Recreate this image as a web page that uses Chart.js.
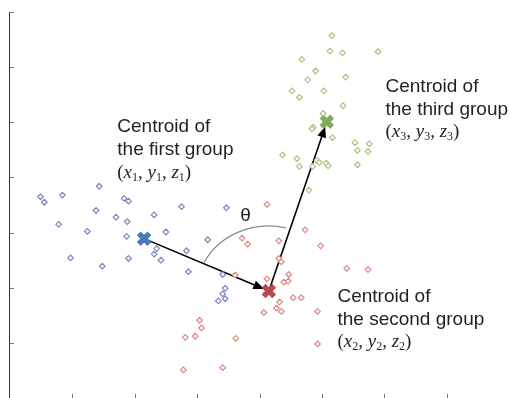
<!DOCTYPE html>
<html>
<head>
<meta charset="utf-8">
<script src="https://cdn.jsdelivr.net/npm/chart.js@4"></script>
<style>
  body { margin: 0; background: #fff; }
  #wrap { width: 509px; height: 398px; }
</style>
</head>
<body>
<div id="wrap"><canvas id="chart" width="509" height="398"></canvas></div>
<script>
const group1X = [0.49, 0.55, 0.84, 1.43, 1.83, 1.90, 0.78, 1.38, 1.70, 1.88, 2.31, 2.75, 3.47, 1.24, 1.87, 2.50, 3.17, 2.35, 2.31, 2.42, 2.83, 0.97, 1.90, 1.48, 2.86, 3.41, 3.45, 3.41, 3.45, 3.34];
const group1Y = [3.65, 3.55, 3.68, 3.84, 3.62, 3.57, 3.15, 3.40, 3.28, 3.20, 3.32, 3.47, 3.45, 3.02, 2.93, 3.01, 2.87, 2.71, 2.61, 2.50, 2.67, 2.54, 2.53, 2.39, 2.29, 2.24, 1.99, 1.89, 1.80, 1.76];

const group2X = [4.12, 4.73, 3.72, 3.81, 4.31, 4.98, 4.31, 4.35, 3.61, 4.12, 4.47, 4.39, 4.46, 5.40, 5.74, 4.54, 4.67, 4.32, 4.27, 4.35, 4.07, 4.93, 3.04, 3.07, 2.81, 2.97, 3.62, 4.93, 2.78, 3.41];
const group2Y = [3.51, 3.05, 2.90, 2.79, 2.85, 2.76, 2.53, 2.47, 2.23, 2.16, 2.24, 2.10, 2.12, 2.35, 2.33, 1.82, 1.82, 1.74, 1.63, 1.57, 1.55, 1.57, 1.41, 1.27, 1.10, 1.12, 1.08, 0.98, 0.51, 0.55];

const group3X = [5.16, 5.13, 5.33, 5.90, 4.68, 4.90, 4.77, 5.38, 4.52, 4.64, 5.03, 5.34, 5.02, 4.86, 4.84, 5.17, 5.53, 5.76, 5.57, 5.74, 4.37, 4.60, 4.64, 4.85, 4.92, 4.96, 5.07, 5.10, 5.57, 4.79];
const group3Y = [6.57, 6.29, 6.26, 6.28, 6.14, 5.93, 5.77, 5.82, 5.57, 5.45, 5.57, 5.30, 5.16, 4.91, 4.88, 4.72, 4.63, 4.61, 4.49, 4.47, 4.41, 4.34, 4.20, 4.20, 4.31, 4.27, 4.26, 4.21, 4.23, 3.77];

const centroidX = [2.15, 4.15, 5.08];
const centroidY = [2.89, 1.94, 5.01];
const groupNames = ['first', 'second', 'third'];

const xTicks = [1, 2, 3, 4, 5, 6, 7];
const yTicks = [1, 2, 3, 4, 5, 6, 7];

const pointColors = ['#7e85c1', '#dc8783', '#a8c582'];
const centroidColors = ['#4a7ab7', '#b9484d', '#82aa5b'];

function toPoints(xs, ys) {
  return xs.map((x, i) => ({ x: x, y: ys[i] }));
}

// label positions in data units, next to each centroid
const labelX = [1.72, 5.25, 6.02];
const labelY = [4.82, 1.74, 5.55];

function drawTuple(ctx, x, y, n) {
  const parts = [
    ['(', 'normal'], ['x', 'italic'], [n, 'sub'], [', ', 'normal'],
    ['y', 'italic'], [n, 'sub'], [', ', 'normal'],
    ['z', 'italic'], [n, 'sub'], [')', 'normal']
  ];
  let cx = x;
  parts.forEach(p => {
    let dy = 0;
    if (p[1] === 'italic') ctx.font = 'italic 19px "Liberation Serif", "Times New Roman", serif';
    else if (p[1] === 'sub') { ctx.font = '12px "Liberation Serif", "Times New Roman", serif'; dy = 3; }
    else ctx.font = '19px "Liberation Serif", "Times New Roman", serif';
    ctx.fillText(p[0], cx, y + dy);
    cx += ctx.measureText(p[0]).width;
  });
}

function arrow(ctx, x1, y1, x2, y2) {
  const ang = Math.atan2(y2 - y1, x2 - x1);
  const ex = x2 - Math.cos(ang) * 5;
  const ey = y2 - Math.sin(ang) * 5;
  ctx.beginPath();
  ctx.moveTo(x1, y1);
  ctx.lineTo(ex - Math.cos(ang) * 6, ey - Math.sin(ang) * 6);
  ctx.stroke();
  ctx.beginPath();
  ctx.moveTo(ex, ey);
  ctx.lineTo(ex - 11 * Math.cos(ang) + 4.5 * Math.sin(ang), ey - 11 * Math.sin(ang) - 4.5 * Math.cos(ang));
  ctx.lineTo(ex - 11 * Math.cos(ang) - 4.5 * Math.sin(ang), ey - 11 * Math.sin(ang) + 4.5 * Math.cos(ang));
  ctx.closePath();
  ctx.fill();
}

const decor = {
  id: 'decor',
  beforeDatasetDraw(chart, args) {
    if (args.index !== 3) return;
    const ctx = chart.ctx;
    const xs = chart.scales.x, ys = chart.scales.y;
    const px = centroidX.map(v => xs.getPixelForValue(v));
    const py = centroidY.map(v => ys.getPixelForValue(v));
    ctx.save();
    ctx.strokeStyle = '#000';
    ctx.fillStyle = '#000';
    ctx.lineWidth = 1.6;
    arrow(ctx, px[0], py[0], px[1], py[1]);
    arrow(ctx, px[1], py[1], px[2], py[2]);

    // angle arc between the two arrows
    const rx = 72, ry = 65;
    const a1 = Math.atan2((py[0] - py[1]) / ry, (px[0] - px[1]) / rx);
    const a2 = Math.atan2((py[2] - py[1]) / ry, (px[2] - px[1]) / rx);
    ctx.beginPath();
    ctx.strokeStyle = '#8c8c8c';
    ctx.lineWidth = 1.2;
    ctx.ellipse(px[1], py[1], rx, ry, 0, a1 + 0.02 + 2 * Math.PI, a2 - 0.06 + 2 * Math.PI);
    ctx.stroke();

    ctx.fillStyle = '#222';
    ctx.font = '19px "Liberation Sans", Arial, sans-serif';
    ctx.textAlign = 'center';
    ctx.textBaseline = 'alphabetic';
    ctx.fillText('\u03b8', 245.5, 221);
    ctx.restore();
  },
  afterDraw(chart) {
    const ctx = chart.ctx;
    const xs = chart.scales.x, ys = chart.scales.y;
    const a = chart.chartArea;
    ctx.save();
    // y axis with inward ticks
    ctx.strokeStyle = '#333';
    ctx.lineWidth = 1;
    ctx.beginPath();
    ctx.moveTo(a.left - 0.5, ys.getPixelForValue(7));
    ctx.lineTo(a.left - 0.5, a.bottom);
    ctx.stroke();
    ctx.strokeStyle = '#777';
    yTicks.forEach(v => {
      const y = Math.round(ys.getPixelForValue(v)) + 0.5;
      ctx.beginPath();
      ctx.moveTo(a.left - 0.5, y);
      ctx.lineTo(a.left + 4, y);
      ctx.stroke();
    });
    xTicks.forEach(v => {
      const x = Math.round(xs.getPixelForValue(v)) + 0.5;
      ctx.beginPath();
      ctx.moveTo(x, a.bottom);
      ctx.lineTo(x, a.bottom - 4);
      ctx.stroke();
    });

    // group labels
    ctx.fillStyle = '#231f20';
    ctx.textAlign = 'left';
    ctx.textBaseline = 'alphabetic';
    centroidX.forEach((c, i) => {
      const lx = xs.getPixelForValue(labelX[i]);
      const ly = ys.getPixelForValue(labelY[i]);
      ctx.font = '19px "Liberation Sans", Arial, sans-serif';
      ctx.fillText('Centroid of', lx, ly);
      ctx.fillText('the ' + groupNames[i] + ' group', lx, ly + 22.7);
      drawTuple(ctx, lx, ly + 45.4, String(i + 1));
    });
    ctx.restore();
  }
};

const pointStyle = {
  pointStyle: 'rectRot',
  pointRadius: 2.8,
  borderWidth: 1.2,
  backgroundColor: '#fff'
};

new Chart(document.getElementById('chart'), {
  type: 'scatter',
  data: {
    datasets: [
      Object.assign({ label: 'Group 1', data: toPoints(group1X, group1Y), borderColor: pointColors[0] }, pointStyle),
      Object.assign({ label: 'Group 2', data: toPoints(group2X, group2Y), borderColor: pointColors[1] }, pointStyle),
      Object.assign({ label: 'Group 3', data: toPoints(group3X, group3Y), borderColor: pointColors[2] }, pointStyle),
      {
        label: 'Centroids',
        data: toPoints(centroidX, centroidY),
        pointStyle: 'crossRot',
        pointRadius: 7.5,
        borderWidth: 5.5,
        borderColor: centroidColors,
        backgroundColor: centroidColors
      }
    ]
  },
  options: {
    responsive: false,
    animation: false,
    devicePixelRatio: 1,
    layout: { autoPadding: false, padding: { left: 10, top: 12, right: 0, bottom: 0 } },
    plugins: {
      legend: { display: false },
      tooltip: { enabled: false }
    },
    scales: {
      x: { type: 'linear', min: 0, max: 8, display: false },
      y: { type: 'linear', min: 0, max: 7, display: false }
    }
  },
  plugins: [decor]
});
</script>
</body>
</html>
